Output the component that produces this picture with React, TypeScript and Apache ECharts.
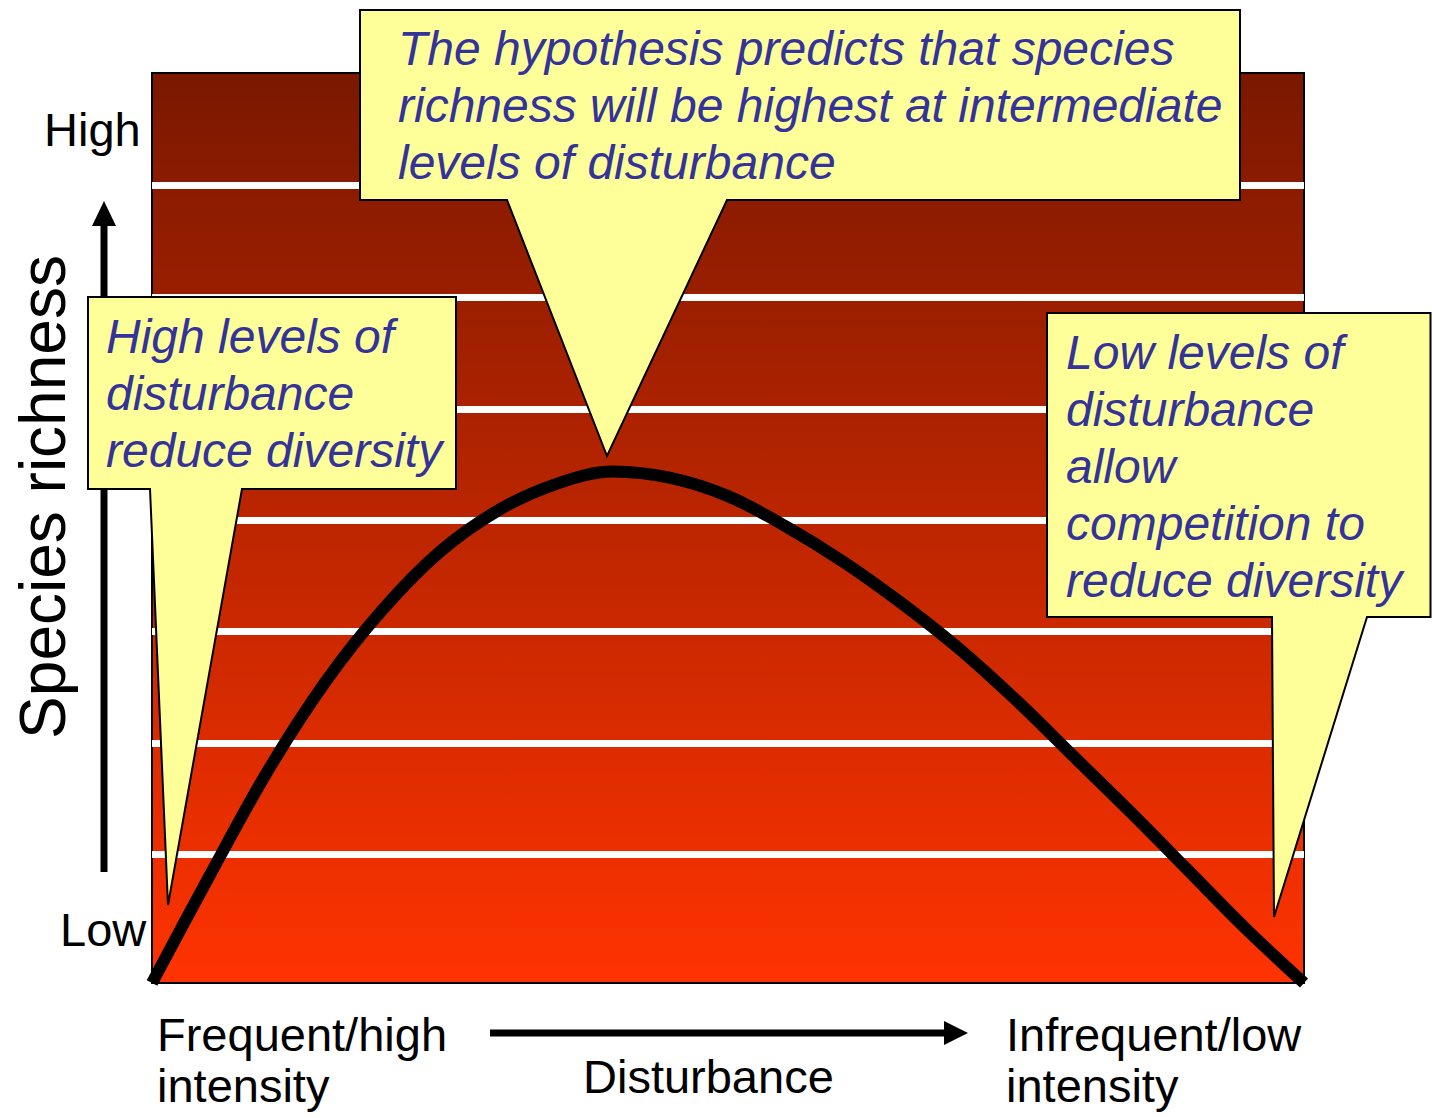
import React, { useEffect, useRef } from "react";
import * as echarts from "echarts";

// Curve: disturbance (0 = frequent/high .. 100 = infrequent/low) vs species richness (0..100)
const disturbance = [0, 5, 10, 15, 20, 25, 30, 35, 40, 45, 50, 55, 60, 65, 70, 75, 80, 85, 90, 95, 100];
const richness = [0, 11.8, 23.2, 33.0, 41.0, 47.4, 51.9, 54.8, 56.2, 55.5, 53.5, 50.2, 46.3, 41.8, 36.8, 31.1, 24.9, 18.7, 12.3, 5.9, 0];

// White band separators (richness values)
const bandLines = [14.1, 26.3, 38.6, 50.8, 63.1, 75.4, 87.7];

// Texts
const yTickLabels = ["Low", "High"];
const xEndLabels = [["Frequent/high", "intensity"], ["Infrequent/low", "intensity"]];
const xAxisTitle = "Disturbance";
const yAxisTitle = "Species richness";
const calloutTop = ["The hypothesis predicts that species", "richness will be highest at intermediate", "levels of disturbance"];
const calloutLeft = ["High levels of", "disturbance", "reduce diversity"];
const calloutRight = ["Low levels of", "disturbance", "allow", "competition to", "reduce diversity"];

const FONT = '"Liberation Sans", Arial, "Helvetica Neue", sans-serif';
const CALLOUT_FILL = "#FFFF99";
const CALLOUT_TEXT = "#333399";

export default function App() {
  const ref = useRef<HTMLDivElement>(null);

  useEffect(() => {
    if (!ref.current) return;
    const chart = echarts.init(ref.current, null, { renderer: "svg" });

    const calloutFs = 48;
    const lh = 57;
    const mid = 0.347; // central baseline offset (em) above alphabetic baseline

    const calloutText = (lines: string[], x: number, baseline1: number) => ({
      type: "text",
      z: 20,
      style: {
        x,
        y: baseline1 - lh / 2 - mid * calloutFs,
        text: lines.join("\n"),
        font: `italic ${calloutFs}px ${FONT}`,
        fill: CALLOUT_TEXT,
        lineHeight: lh,
        verticalAlign: "top",
        align: "left",
      },
    });

    const plainText = (text: string, x: number, baseline: number, fs = 47, align = "left") => ({
      type: "text",
      z: 20,
      style: {
        x,
        y: baseline - mid * fs,
        text,
        font: `${fs}px ${FONT}`,
        fill: "#000",
        verticalAlign: "middle",
        align,
      },
    });

    const callout = (pts: number[][]) => ({
      type: "polygon",
      z: 15,
      shape: { points: pts },
      style: { fill: CALLOUT_FILL, stroke: "#000", lineWidth: 2 },
    });

    const graphic: any[] = [
      // callouts
      callout([[360, 10], [1240, 10], [1240, 200], [727, 200], [607, 456], [507, 200], [360, 200]]),
      callout([[88, 297], [456, 297], [456, 489], [242, 489], [168, 905], [150, 489], [88, 489]]),
      callout([[1047, 313], [1430.5, 313], [1430.5, 617], [1367, 617], [1274, 917], [1272, 617], [1047, 617]]),
      calloutText(calloutTop, 398, 65),
      calloutText(calloutLeft, 106, 353),
      calloutText(calloutRight, 1066, 369),
      // y axis annotation
      plainText(yTickLabels[1], 44, 146),
      plainText(yTickLabels[0], 60, 946),
      {
        type: "line",
        z: 10,
        shape: { x1: 104, y1: 872, x2: 104, y2: 222 },
        style: { stroke: "#000", lineWidth: 7 },
      },
      {
        type: "polygon",
        z: 10,
        shape: { points: [[92, 226], [116, 226], [104, 201]] },
        style: { fill: "#000" },
      },
      {
        type: "text",
        z: 20,
        x: 43,
        y: 497,
        rotation: Math.PI / 2,
        style: {
          x: 0,
          y: 0,
          text: yAxisTitle,
          font: `64px ${FONT}`,
          fill: "#000",
          align: "center",
          verticalAlign: "middle",
        },
      },
      // x axis annotation
      plainText(xEndLabels[0][0], 157, 1051),
      plainText(xEndLabels[0][1], 157, 1102),
      plainText(xEndLabels[1][0], 1006, 1051),
      plainText(xEndLabels[1][1], 1006, 1102),
      plainText(xAxisTitle, 583, 1093),
      {
        type: "line",
        z: 10,
        shape: { x1: 490, y1: 1033, x2: 946, y2: 1033 },
        style: { stroke: "#000", lineWidth: 7 },
      },
      {
        type: "polygon",
        z: 10,
        shape: { points: [[944, 1021], [944, 1045], [968, 1033]] },
        style: { fill: "#000" },
      },
    ];

    chart.setOption({
      animation: false,
      backgroundColor: "#ffffff",
      grid: {
        left: 152,
        top: 73,
        width: 1152,
        height: 910,
        show: true,
        backgroundColor: new echarts.graphic.LinearGradient(0, 0, 0, 1, [
          { offset: 0, color: "#7A1800" },
          { offset: 1, color: "#FF3300" },
        ]),
        borderColor: "#000",
        borderWidth: 2,
      },
      xAxis: { type: "value", min: 0, max: 100, show: false },
      yAxis: { type: "value", min: 0, max: 100, show: false },
      series: [
        {
          type: "line",
          data: [],
          silent: true,
          z: 1,
          markLine: {
            silent: true,
            symbol: "none",
            label: { show: false },
            lineStyle: { color: "#ffffff", width: 7, type: "solid" },
            data: bandLines.map((v) => ({ yAxis: v })),
          },
        },
        {
          type: "line",
          data: disturbance.map((d, i) => [d, richness[i]]),
          smooth: 0.34,
          showSymbol: false,
          symbol: "none",
          z: 5,
          lineStyle: { color: "#000", width: 12, join: "round" },
        },
      ],
      graphic,
    });

    return () => chart.dispose();
  }, []);

  return (
    <div
      ref={ref}
      style={{ position: "absolute", left: 0, top: 0, width: 1432, height: 1118 }}
    />
  );
}
